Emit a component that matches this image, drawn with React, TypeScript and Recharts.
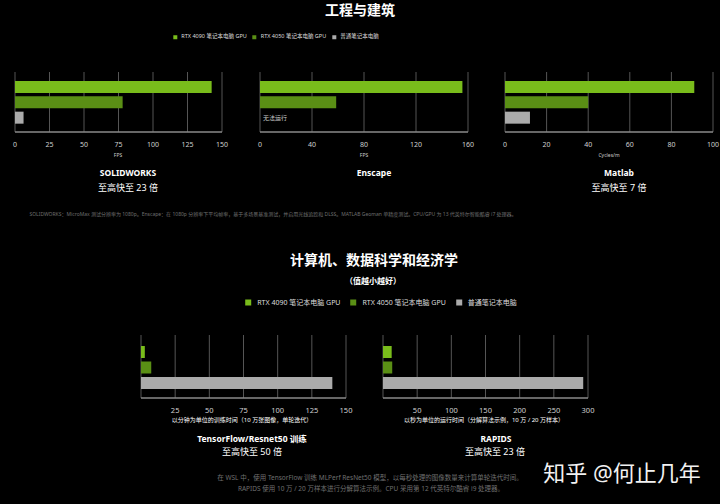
import React from 'react';
import { BarChart, Bar, XAxis, YAxis, CartesianGrid, Cell } from 'recharts';

const gpuNames = ['RTX 4090 笔记本电脑 GPU', 'RTX 4050 笔记本电脑 GPU', '普通笔记本电脑'];
const gpuColors = ['#79bc1b', '#5a8f15', '#ababab'];

const solidworksFps = [142.5, 78, 6.2];
const enscapeFps = [155.7, 58.6, null];
const matlabCycles = [91, 40, 12];
const tensorflowMinutes = [2.8, 7.5, 140];
const rapidsSeconds = [12.7, 13.5, 293];

const solidworksTicks = [0, 25, 50, 75, 100, 125, 150];
const enscapeTicks = [0, 40, 80, 120, 160];
const matlabTicks = [0, 20, 40, 60, 80, 100];
const tensorflowTicks = [0, 25, 50, 75, 100, 125, 150];
const rapidsTicks = [0, 50, 100, 150, 200, 250, 300];

const FONT = '"Noto Sans", "Noto Sans CJK SC", sans-serif';

const toRows = (values: (number | null)[]) =>
  gpuNames.map((name, i) => ({ name, value: values[i] }));

interface PanelProps {
  values: (number | null)[];
  ticks: number[];
  left: number; // plot left
  top: number; // plot top
  plotW: number;
  plotH: number;
  padTop: number;
  padBottom: number;
  hideZero?: boolean;
  tickSize?: number;
}

const Panel: React.FC<PanelProps> = ({
  values, ticks, left, top, plotW, plotH, padTop, padBottom, hideZero, tickSize = 7,
}) => {
  const ml = 10;
  const mr = 12;
  return (
    <div style={{ position: 'absolute', left: left - ml, top }}>
      <BarChart
        width={plotW + ml + mr}
        height={plotH + 20}
        data={toRows(values)}
        layout="vertical"
        margin={{ top: 0, right: mr, bottom: 0, left: ml }}
      >
        <CartesianGrid horizontal={false} stroke="#555" />
        <XAxis
          type="number"
          domain={[ticks[0], ticks[ticks.length - 1]]}
          ticks={ticks}
          interval={0}
          height={20}
          tickLine={false}
          tickMargin={4}
          axisLine={{ stroke: '#8a8a8a', strokeWidth: 1.5 }}
          tick={{ fill: '#d0d0d0', fontSize: tickSize, fontFamily: FONT }}
          tickFormatter={(v) => (hideZero && v === 0 ? '' : String(v))}
        />
        <YAxis type="category" dataKey="name" hide padding={{ top: padTop, bottom: padBottom }} />
        <Bar dataKey="value" barSize={12} isAnimationActive={false}>
          {gpuNames.map((n, i) => (
            <Cell key={n} fill={gpuColors[i]} />
          ))}
        </Bar>
      </BarChart>
    </div>
  );
};

const Text: React.FC<{ x: number; y: number; size: number; bold?: boolean; color?: string; children: React.ReactNode }> = ({
  x, y, size, bold, color = '#fff', children,
}) => (
  <div
    style={{
      position: 'absolute', left: x, top: y, transform: 'translate(-50%, -50%)',
      fontSize: size, fontWeight: bold ? 700 : 400, color, whiteSpace: 'nowrap',
      fontFamily: FONT, lineHeight: 1,
    }}
  >
    {children}
  </div>
);

const Legend: React.FC<{ x: number; y: number; size: number; box: number; gap: number }> = ({ x, y, size, box, gap }) => (
  <div
    style={{
      position: 'absolute', left: x, top: y, transform: 'translate(-50%, -50%)', display: 'flex',
      alignItems: 'center', gap, fontSize: size, color: '#ddd', fontFamily: FONT, whiteSpace: 'nowrap', lineHeight: 1,
    }}
  >
    {gpuNames.map((n, i) => (
      <div key={n} style={{ display: 'flex', alignItems: 'center', gap: box }}>
        <span style={{ width: box, height: box, background: gpuColors[i], display: 'inline-block' }} />
        <span>{n}</span>
      </div>
    ))}
  </div>
);

export default function App() {
  return (
    <div style={{ position: 'fixed', left: 0, top: 0, width: 720, height: 504, background: '#000', overflow: 'hidden' }}>
      <Text x={360} y={10} size={14} bold>工程与建筑</Text>
      <Legend x={276} y={37} size={5.5} box={4} gap={6} />

      <Panel values={solidworksFps} ticks={solidworksTicks} left={15} top={72} plotW={207} plotH={60} padTop={7} padBottom={7} />
      <Panel values={enscapeFps} ticks={enscapeTicks} left={260} top={72} plotW={208} plotH={60} padTop={7} padBottom={7} />
      <Panel values={matlabCycles} ticks={matlabTicks} left={505} top={72} plotW={208} plotH={60} padTop={7} padBottom={7} />

      <Text x={275} y={118} size={6} color="#ccc">无法运行</Text>

      <Text x={118} y={155} size={5} color="#ccc">FPS</Text>
      <Text x={364} y={155} size={5} color="#ccc">FPS</Text>
      <Text x={609} y={155} size={5} color="#ccc">Cycles/m</Text>

      <Text x={128} y={173} size={8.5} bold>SOLIDWORKS</Text>
      <Text x={128} y={187} size={9}>至高快至 23 倍</Text>
      <Text x={374} y={173} size={8.5} bold>Enscape</Text>
      <Text x={619} y={173} size={8.5} bold>Matlab</Text>
      <Text x={619} y={187} size={9}>至高快至 7 倍</Text>

      <Text x={273} y={214} size={5} color="#6f6f6f">
        SOLIDWORKS：MicroMax 测试分辨率为 1080p。Enscape：在 1080p 分辨率下平均帧率，基于多场景基准测试，并启用光线追踪和 DLSS。MATLAB Geoman 单精度测试。CPU/GPU 为 13 代英特尔智能酷睿 i7 处理器。
      </Text>

      <Text x={374} y={260} size={14} bold>计算机、数据科学和经济学</Text>
      <Text x={373} y={281} size={8} bold>（值越小越好）</Text>
      <Legend x={381} y={302} size={7} box={6} gap={10} />

      <Panel values={tensorflowMinutes} ticks={tensorflowTicks} left={141} top={335} plotW={205} plotH={63} padTop={9} padBottom={7.5} hideZero tickSize={7.5} />
      <Panel values={rapidsSeconds} ticks={rapidsTicks} left={383} top={335} plotW={205} plotH={63} padTop={9} padBottom={7.5} hideZero tickSize={7.5} />

      <Text x={242} y={420} size={6}>以分钟为单位的训练时间（10 万张图像，单轮迭代）</Text>
      <Text x={252} y={439} size={8.5} bold>TensorFlow/Resnet50 训练</Text>
      <Text x={252} y={451} size={9}>至高快至 50 倍</Text>

      <Text x={484} y={420} size={6}>以秒为单位的运行时间（分解算法示例，10 万 / 20 万样本）</Text>
      <Text x={496} y={439} size={8.5} bold>RAPIDS</Text>
      <Text x={495} y={451} size={9}>至高快至 23 倍</Text>

      <Text x={370} y={478} size={6.5} color="#6f6f6f">在 WSL 中，使用 TensorFlow 训练 MLPerf ResNet50 模型，以每秒处理的图像数量来计算单轮迭代时间。</Text>
      <Text x={371} y={489} size={6.5} color="#6f6f6f">RAPIDS 使用 10 万 / 20 万样本进行分解算法示例。CPU 采用第 12 代英特尔酷睿 i9 处理器。</Text>

      <Text x={622} y={472} size={22} color="#f2f2f2">知乎 @何止几年</Text>
    </div>
  );
}
